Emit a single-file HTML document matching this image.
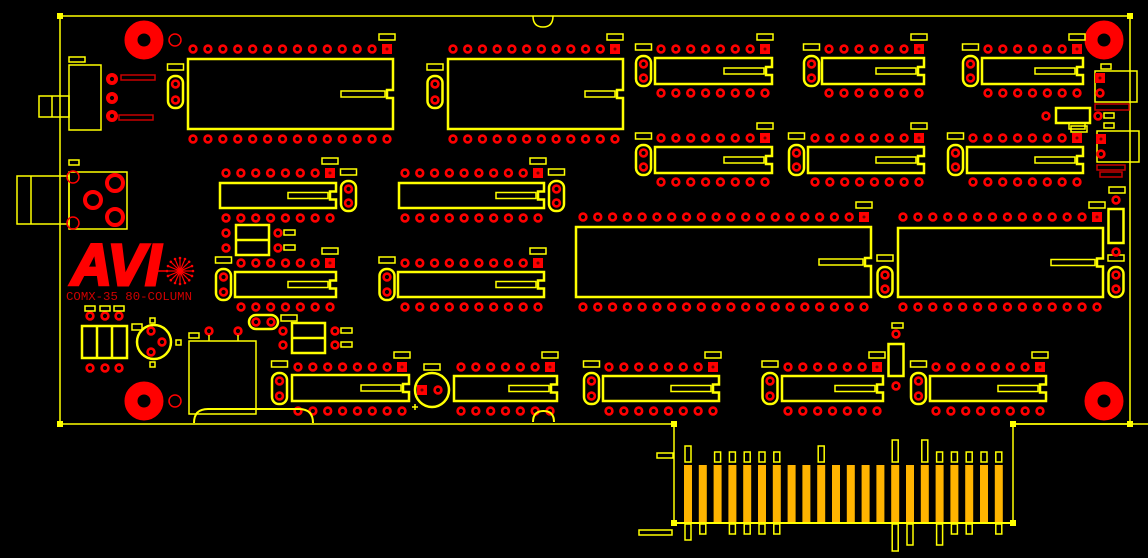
<!DOCTYPE html>
<html><head><meta charset="utf-8"><style>
html,body{margin:0;padding:0;background:#000;}
svg{display:block}
</style></head><body>
<svg id="s" width="1148" height="558" viewBox="0 0 1148 558" xmlns="http://www.w3.org/2000/svg">
<rect width="1148" height="558" fill="#000"/>
<g id="g"></g>
<text x="66" y="300" font-family="Liberation Mono, monospace" font-size="12" fill="#d00000" textLength="126" lengthAdjust="spacingAndGlyphs">COMX-35 80-COLUMN</text>
<text x="71" y="285" font-family="Liberation Sans, sans-serif" font-weight="bold" font-style="italic" font-size="58" fill="#ff0000" stroke="#ff0000" stroke-width="3" textLength="90" lengthAdjust="spacingAndGlyphs">AVI</text>
</svg>
<script>
var o='';var Y='#ffff00',R='#ff0000',DR='#c80000',O='#ffb400';
function pad(x,y){o+='<circle cx="'+x+'" cy="'+y+'" r="3.4" fill="none" stroke="'+R+'" stroke-width="2.6"/>';}
function sq(x,y){o+='<rect x="'+(x-5)+'" y="'+(y-5)+'" width="10" height="10" fill="'+R+'"/><circle cx="'+x+'" cy="'+y+'" r="1.5" fill="#600"/>';}
function rc(x,y,w,h,c,sw){o+='<rect x="'+x+'" y="'+y+'" width="'+w+'" height="'+h+'" fill="none" stroke="'+(c||Y)+'" stroke-width="'+(sw||1.5)+'"/>';}
function ln(x1,y1,x2,y2,c,sw){o+='<line x1="'+x1+'" y1="'+y1+'" x2="'+x2+'" y2="'+y2+'" stroke="'+(c||Y)+'" stroke-width="'+(sw||1.5)+'"/>';}
function ci(x,y,r,c,sw,f){o+='<circle cx="'+x+'" cy="'+y+'" r="'+r+'" fill="'+(f||'none')+'" stroke="'+(c||Y)+'" stroke-width="'+(sw||2)+'"/>';}
function ic(bx1,bx2,by1,by2,px1,px2,n,yt,yb,bw){
 var my=(by1+by2)/2;
 o+='<path d="M'+bx1+' '+by1+'H'+bx2+'V'+(my-4)+'H'+(bx2-6)+'V'+(my+4)+'H'+bx2+'V'+by2+'H'+bx1+'Z" fill="none" stroke="'+Y+'" stroke-width="2.5"/>';
 bw=bw||40;rc(bx2-8-bw,my-3,bw,6);
 var p=(px2-px1)/(n-1);
 for(var i=0;i<n;i++){var x=px1+i*p;if(i==n-1)sq(x,yt);else pad(x,yt);pad(x,yb);}
 rc(px2-8,yt-15,16,6);
}
function cap(x,y1,y2){o+='<rect x="'+(x-7.5)+'" y="'+y1+'" width="15" height="'+(y2-y1)+'" rx="7" fill="none" stroke="'+Y+'" stroke-width="2.5"/>';pad(x,y1+8);pad(x,y2-8);rc(x-8,y1-12,16,6);}
function hole(x,y){ci(x,y,13,R,13);ci(x,y,6,'none',0,'#000');}
o+='<path d="M60 16H1130V424H1013V523H674V424H60Z" fill="none" stroke="'+Y+'" stroke-width="1.5"/>';
[[60,16],[1130,16],[60,424],[1130,424],[674,424],[1013,424],[674,523],[1013,523]].forEach(function(p){o+='<rect x="'+(p[0]-3)+'" y="'+(p[1]-3)+'" width="6" height="6" fill="'+Y+'"/>';});
ln(1013,424,1148,424);
o+='<path d="M533 16Q533 27 543 27Q553 27 553 16" fill="none" stroke="'+Y+'" stroke-width="1.5"/>';
hole(144,40);hole(1104,40);hole(144,401);hole(1104,401);
ci(175,40,6,R,1.5);ci(175,401,6,R,1.5);
ic(188,393,59,129,193,387,14,49,139,44);cap(175.5,76,108);
ic(448,623,59,129,453,615,12,49,139,30);cap(435,76,108);
ic(655,772,58,84,661,765,8,49,93);cap(643.5,56,86);
ic(822,924,58,84,829,919,7,49,93);cap(811.5,56,86);
ic(982,1083,58,84,988,1077,7,49,93);cap(970.5,56,86);
ic(655,772,147,173,661,765,8,138,182);cap(643.5,145,175);
ic(808,924,147,173,815,919,8,138,182);cap(796.5,145,175);
ic(967,1083,147,173,973,1077,8,138,182);cap(955.5,145,175);
ic(220,336,183,208,226,330,8,173,218);cap(348.5,181,211);
ic(399,544,183,208,405,538,10,173,218);cap(556.5,181,211);
ic(235,336,272,297,241,330,7,263,307);cap(223.5,269,300);
ic(398,544,272,297,405,538,10,263,307);cap(387,269,300);
ic(576,871,227,297,583,864,20,217,307,44);cap(885,267,297);
ic(898,1103,228,297,903,1097,14,217,307,44);cap(1116,267,297);
ic(292,409,375,401,298,402,8,367,411);cap(279.5,373,404);
ic(454,557,376,401,461,550,7,367,411);
ic(603,719,376,401,609,713,8,367,411);cap(591.5,373,404);
ic(782,883,376,401,788,877,7,367,411);cap(770,373,404);
ic(930,1046,376,401,936,1040,8,367,411);cap(918.5,373,404);
ci(432,390,17,Y,2.5);sq(422,390);pad(438,390);rc(424,364,16,6);ln(412,407,418,407);ln(415,404,415,410);
o+='<path d="M533 422Q533 411 543.5 411Q554 411 554 422" fill="none" stroke="'+Y+'" stroke-width="2"/>';
function rv(x,y1,y2,p1,p2){rc(x-7.5,y1,15,y2-y1,Y,2.5);pad(x,p1);pad(x,p2);}
rv(896,344,376,334,386);rc(892,323,11,5);
rv(1116,209,243,200,252);rc(1109,187,16,6);
rc(1056,108,34,15,Y,2.5);pad(1046,116);pad(1098,116);rc(1071,126,16,6);
function rb(x1,x2,y1,y2,pl,pr,ya,yb2,lx){rc(x1,y1,x2-x1,y2-y1,Y,2.5);ln(x1,(y1+y2)/2,x2,(y1+y2)/2,Y,2.5);pad(pl,ya);pad(pl,yb2);pad(pr,ya);pad(pr,yb2);rc(lx,ya-3,11,5);rc(lx,yb2-3,11,5);}
rb(236,269,225,255,226,278,233,248,284);
rb(292,325,323,353,283,335,331,345,341);
o+='<rect x="249" y="315" width="29" height="14" rx="7" fill="none" stroke="'+Y+'" stroke-width="2.5"/>';pad(256,322);pad(271,322);rc(281,315,16,6);
rc(189,341,67,73);pad(209,331);pad(238,331);ln(209,335,209,341);ln(238,335,238,341);rc(189,333,10,5);
o+='<path d="M194 423Q194 409 208 409H299Q313 409 313 423" fill="none" stroke="'+Y+'" stroke-width="2"/>';
rc(82,326,45,32,Y,2.5);ln(97,326,97,358,Y,2.5);ln(112,326,112,358,Y,2.5);
[90,105,119].forEach(function(x){pad(x,316);pad(x,368);rc(x-5,306,10,5);});
ci(154,342,17,Y,2.5);pad(151,331);pad(162,342);pad(151,352);rc(132,324,10,6);rc(150,318,5,5);rc(150,362,5,5);rc(176,340,5,5);
rc(69,65,32,65);rc(39,96,30,21);ln(52,96,52,117);rc(69,57,16,5);
pad(112,79);pad(112,98);pad(112,116);ci(112,79,5,R,2);ci(112,98,5,R,2);ci(112,116,5,R,2);
rc(121,75,34,5,DR);rc(119,115,34,5,DR);
rc(69,172,58,57);rc(17,176,52,48);ln(31,176,31,224);rc(69,160,10,5);
ci(115,183,8,R,4);ci(93,200,8,R,4);ci(115,217,8,R,4);ci(73,177,6,R,1.5);ci(73,223,6,R,1.5);
ln(150,271,168,271,R,1.5);
for(var a=0;a<360;a+=22.5){var r1=a*Math.PI/180;ln(180,271,180+13*Math.cos(r1),271+13*Math.sin(r1),R,1.2);o+='<circle cx="'+(180+13*Math.cos(r1))+'" cy="'+(271+13*Math.sin(r1))+'" r="1.3" fill="'+R+'"/>';}
rc(1095,71,42,31);sq(1100,78);pad(1100,93);rc(1101,64,10,5);rc(1095,104,34,6,DR);
rc(1097,131,42,31);sq(1101,139);pad(1101,154);rc(1104,113,10,5);rc(1104,123,10,5);rc(1097,165,28,5,DR);rc(1100,172,22,5,DR);
for(var i=0;i<22;i++){var x=684+i*14.8;o+='<rect x="'+x+'" y="465" width="8" height="58" fill="'+O+'"/>';}
ln(674,523,1013,523,Y,2);
var up={0:[446,16],2:[452,10],3:[452,10],4:[452,10],5:[452,10],6:[452,10],9:[446,16],14:[440,22],16:[440,22],17:[452,10],18:[452,10],19:[452,10],20:[452,10],21:[452,10]};
var dn={0:[524,16],1:[524,10],3:[524,10],4:[524,10],5:[524,10],6:[524,10],14:[524,27],15:[524,21],17:[524,21],18:[524,10],19:[524,10],21:[524,10]};
for(var k in up){var x=684+k*14.8+1;rc(x,up[k][0],6,up[k][1]);}
for(var k in dn){var x=684+k*14.8+1;rc(x,dn[k][0],6,dn[k][1]);}
rc(657,453,16,5);rc(639,530,33,5);
document.getElementById('g').innerHTML=o;
</script>
</body></html>
